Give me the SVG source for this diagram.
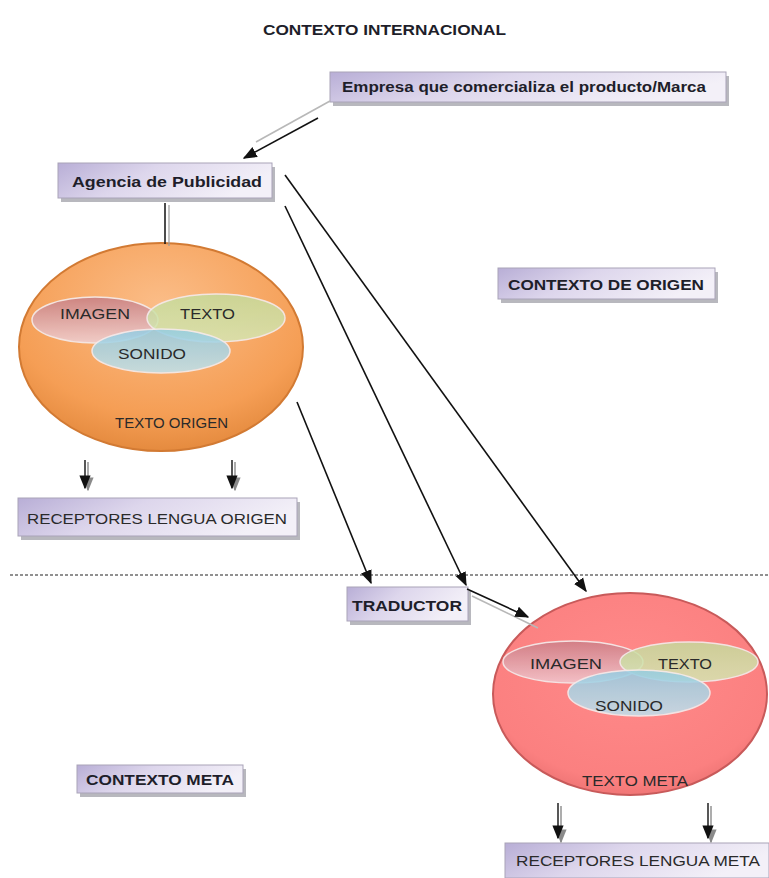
<svg xmlns="http://www.w3.org/2000/svg" width="769" height="878" viewBox="0 0 769 878">
<defs>
<style>
.box{fill:url(#boxg);stroke:#a9a3b8;stroke-width:1}
.sh{fill:#9a9aa2;opacity:0.7}
.bt{font-family:"Liberation Sans",Arial,sans-serif;font-weight:bold;font-size:14px;fill:#1e1e2a}
.nt{font-family:"Liberation Sans",Arial,sans-serif;font-size:15px;fill:#2a2a2a}
.ln{stroke:#111;stroke-width:1.6;fill:none}
.gl{stroke:#b8b8b8;stroke-width:1.6;fill:none}
.inner{stroke:#f4eaea;stroke-width:1.5;opacity:0.92}
</style>
<linearGradient id="boxg" x1="0" y1="0" x2="1" y2="0.3">
<stop offset="0" stop-color="#b8aed6"/>
<stop offset="0.45" stop-color="#ddd6ec"/>
<stop offset="1" stop-color="#f3f0f8"/>
</linearGradient>
<radialGradient id="orange" cx="0.5" cy="0.3" r="0.75">
<stop offset="0" stop-color="#fbbd88"/>
<stop offset="0.7" stop-color="#f59e55"/>
<stop offset="1" stop-color="#e08538"/>
</radialGradient>
<radialGradient id="red" cx="0.5" cy="0.4" r="0.7">
<stop offset="0" stop-color="#ff8a8a"/>
<stop offset="0.75" stop-color="#fb8080"/>
<stop offset="1" stop-color="#e06868"/>
</radialGradient>
<linearGradient id="img" x1="0" y1="0" x2="0" y2="1">
<stop offset="0" stop-color="#c47c86"/>
<stop offset="1" stop-color="#f0d4dc"/>
</linearGradient>
<linearGradient id="txt" x1="0" y1="0" x2="0" y2="1">
<stop offset="0" stop-color="#c4dc9c"/>
<stop offset="1" stop-color="#d6e8b4"/>
</linearGradient>
<linearGradient id="son" x1="0" y1="0" x2="0" y2="1">
<stop offset="0" stop-color="#94cce2"/>
<stop offset="1" stop-color="#bfe3ef"/>
</linearGradient>
<marker id="ahb" viewBox="0 0 10 10" refX="9" refY="5" markerWidth="14" markerHeight="14" markerUnits="userSpaceOnUse" orient="auto">
<path d="M0,1 L10,5 L0,9 z" fill="#111"/>
</marker>
<marker id="ahg" viewBox="0 0 10 10" refX="9" refY="5" markerWidth="14" markerHeight="14" markerUnits="userSpaceOnUse" orient="auto">
<path d="M0,1 L10,5 L0,9 z" fill="#8a8a8a"/>
</marker>
</defs>
<rect width="769" height="878" fill="#ffffff"/>

<text id="title" x="263" y="35" class="bt" style="font-size:14px" textLength="243" lengthAdjust="spacingAndGlyphs">CONTEXTO INTERNACIONAL</text>

<line x1="10" y1="575" x2="769" y2="575" stroke="#222" stroke-width="1.2" stroke-dasharray="3,2"/>

<g id="empresa">
<rect class="sh" x="333" y="76" width="396" height="30"/>
<rect class="box" x="330" y="72" width="396" height="30"/>
<text class="bt" x="342" y="92" textLength="364" lengthAdjust="spacingAndGlyphs">Empresa que comercializa el producto/Marca</text>
</g>

<g id="agencia">
<rect class="sh" x="61" y="167" width="214" height="35"/>
<rect class="box" x="58" y="163" width="214" height="35"/>
<text class="bt" x="72" y="187" style="font-size:15px" textLength="190" lengthAdjust="spacingAndGlyphs">Agencia de Publicidad</text>
</g>

<g id="contexto-origen">
<rect class="sh" x="501" y="272" width="217" height="31"/>
<rect class="box" x="498" y="268" width="217" height="31"/>
<text class="bt" x="508" y="290" textLength="196" lengthAdjust="spacingAndGlyphs">CONTEXTO DE ORIGEN</text>
</g>

<g id="texto-origen">
<ellipse cx="161" cy="347" rx="142" ry="104" fill="url(#orange)" stroke="#d27a33" stroke-width="2"/>
<ellipse class="inner" cx="95" cy="320" rx="63" ry="23" fill="url(#img)" fill-opacity="0.88"/>
<ellipse class="inner" cx="216" cy="318" rx="69" ry="24" fill="url(#txt)" fill-opacity="0.9"/>
<ellipse class="inner" cx="161" cy="351" rx="69" ry="22" fill="url(#son)" fill-opacity="0.92"/>
<text class="nt" x="60" y="319" textLength="70" lengthAdjust="spacingAndGlyphs">IMAGEN</text>
<text class="nt" x="180" y="319" textLength="55" lengthAdjust="spacingAndGlyphs">TEXTO</text>
<text class="nt" x="118" y="359" textLength="68" lengthAdjust="spacingAndGlyphs">SONIDO</text>
<text class="nt" x="115" y="428" textLength="113" lengthAdjust="spacingAndGlyphs">TEXTO ORIGEN</text>
</g>

<g id="receptores-origen">
<rect class="sh" x="21" y="502" width="279" height="38"/>
<rect class="box" x="18" y="498" width="279" height="38"/>
<text class="nt" x="27" y="524" textLength="260" lengthAdjust="spacingAndGlyphs">RECEPTORES LENGUA ORIGEN</text>
</g>

<g id="traductor">
<rect class="sh" x="350" y="591" width="121" height="34"/>
<rect class="box" x="347" y="587" width="121" height="34"/>
<text class="bt" x="352" y="611" textLength="110" lengthAdjust="spacingAndGlyphs">TRADUCTOR</text>
</g>

<g id="texto-meta">
<ellipse cx="630" cy="694" rx="137" ry="101" fill="url(#red)" stroke="#c85a5a" stroke-width="2"/>
<ellipse class="inner" cx="573" cy="662" rx="70" ry="21" fill="url(#img)" fill-opacity="0.8"/>
<ellipse class="inner" cx="689" cy="662" rx="69" ry="20" fill="url(#txt)" fill-opacity="0.9"/>
<ellipse class="inner" cx="639" cy="693" rx="71" ry="23" fill="url(#son)" fill-opacity="0.92"/>
<text class="nt" x="530" y="669" textLength="72" lengthAdjust="spacingAndGlyphs">IMAGEN</text>
<text class="nt" x="658" y="669" textLength="54" lengthAdjust="spacingAndGlyphs">TEXTO</text>
<text class="nt" x="595" y="711" textLength="68" lengthAdjust="spacingAndGlyphs">SONIDO</text>
<text class="nt" x="582" y="786" textLength="106" lengthAdjust="spacingAndGlyphs">TEXTO META</text>
</g>

<g id="contexto-meta">
<rect class="sh" x="80" y="769" width="166" height="28"/>
<rect class="box" x="77" y="765" width="166" height="28"/>
<text class="bt" x="86" y="785" textLength="148" lengthAdjust="spacingAndGlyphs">CONTEXTO META</text>
</g>

<g id="receptores-meta">
<rect class="sh" x="508" y="847" width="264" height="34"/>
<rect class="box" x="505" y="843" width="264" height="35"/>
<text class="nt" x="516" y="866" textLength="244" lengthAdjust="spacingAndGlyphs">RECEPTORES LENGUA META</text>
</g>

<g id="connectors">
<line class="gl" x1="330" y1="101" x2="256" y2="142"/>
<line class="ln" x1="318" y1="118" x2="244" y2="158" marker-end="url(#ahb)"/>
<line x1="165" y1="203" x2="165" y2="244" stroke="#111" stroke-width="1.5"/>
<line x1="169" y1="205" x2="169" y2="246" stroke="#9a9a9a" stroke-width="1.2"/>
<line class="ln" x1="285" y1="175" x2="586" y2="591" marker-end="url(#ahb)"/>
<line class="ln" x1="285" y1="206" x2="466" y2="585" marker-end="url(#ahb)"/>
<line class="gl" x1="472" y1="596" x2="538" y2="628"/>
<line class="ln" x1="467" y1="589" x2="528" y2="617" marker-end="url(#ahb)"/>
<line class="ln" x1="297" y1="402" x2="371" y2="583" marker-end="url(#ahb)"/>
<line x1="88" y1="462" x2="88" y2="490" stroke="#8a8a8a" stroke-width="1.4" marker-end="url(#ahg)"/>
<line x1="85" y1="460" x2="85" y2="488" stroke="#111" stroke-width="1.4" marker-end="url(#ahb)"/>
<line x1="235" y1="462" x2="235" y2="490" stroke="#8a8a8a" stroke-width="1.4" marker-end="url(#ahg)"/>
<line x1="232" y1="460" x2="232" y2="488" stroke="#111" stroke-width="1.4" marker-end="url(#ahb)"/>
<line x1="561" y1="806" x2="561" y2="842" stroke="#8a8a8a" stroke-width="1.4" marker-end="url(#ahg)"/>
<line x1="558" y1="803" x2="558" y2="838" stroke="#111" stroke-width="1.4" marker-end="url(#ahb)"/>
<line x1="711" y1="806" x2="711" y2="842" stroke="#8a8a8a" stroke-width="1.4" marker-end="url(#ahg)"/>
<line x1="708" y1="803" x2="708" y2="838" stroke="#111" stroke-width="1.4" marker-end="url(#ahb)"/>
</g>
</svg>
